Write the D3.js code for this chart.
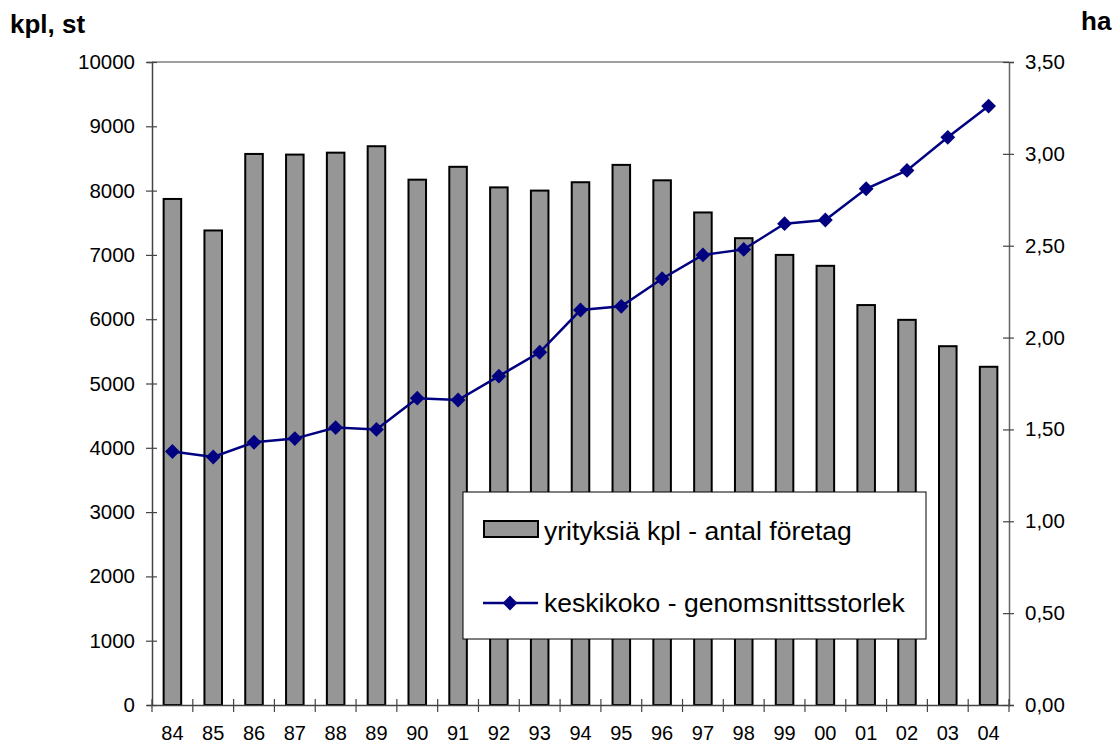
<!DOCTYPE html>
<html>
<head>
<meta charset="utf-8">
<script src="https://cdn.jsdelivr.net/npm/d3@7"></script>
<style>
html,body{margin:0;padding:0;background:#fff;}
svg{display:block;font-family:"Liberation Sans",Arial,sans-serif;}
</style>
</head>
<body>
<svg id="chart" width="1114" height="744"></svg>
<script>
const years = ["84","85","86","87","88","89","90","91","92","93","94","95","96","97","98","99","00","01","02","03","04"];
const companies = [7870,7380,8570,8560,8590,8690,8170,8370,8050,8000,8130,8400,8160,7660,7260,7000,6830,6220,5990,5580,5260];
const avgSize = [1.38,1.35,1.43,1.45,1.51,1.50,1.67,1.66,1.79,1.92,2.15,2.17,2.32,2.45,2.48,2.62,2.64,2.81,2.91,3.09,3.26];
const leftTicks = [0,1000,2000,3000,4000,5000,6000,7000,8000,9000,10000];
const rightTicks = [0,0.5,1,1.5,2,2.5,3,3.5];
const leftTitle = "kpl, st";
const rightTitle = "ha";
const legendBar = "yrityksiä kpl - antal företag";
const legendLine = "keskikoko - genomsnittsstorlek";

const svg = d3.select("#chart");
const L = 152, R = 1009, T = 62, B = 705;

const x = d3.scaleBand().domain(years).range([L, R]).paddingInner(0.57).paddingOuter(0.285);
const yL = d3.scaleLinear().domain([0, 10000]).range([B, T]);
const yR = d3.scaleLinear().domain([0, 3.5]).range([B, T]);

// top border
svg.append("line").attr("x1", L).attr("x2", R).attr("y1", T).attr("y2", T)
  .attr("stroke", "#808080").attr("stroke-width", 1.5);

// bars
svg.append("g").selectAll("rect").data(years).join("rect")
  .attr("x", d => x(d))
  .attr("y", (d, i) => yL(companies[i]))
  .attr("width", x.bandwidth())
  .attr("height", (d, i) => B - yL(companies[i]))
  .attr("fill", "#969696")
  .attr("stroke", "#000")
  .attr("stroke-width", 2);

// axes
const fmtR = d => d3.format(".2f")(d).replace(".", ",");
const axL = svg.append("g").attr("transform", `translate(${L},0)`)
  .call(d3.axisLeft(yL).tickValues(leftTicks).tickSize(5).tickFormat(d => String(d)));
const axR = svg.append("g").attr("transform", `translate(${R},0)`)
  .call(d3.axisRight(yR).tickValues(rightTicks).tickSize(5).tickFormat(fmtR));
const axB = svg.append("g").attr("transform", `translate(0,${B})`)
  .call(d3.axisBottom(x).tickSize(7).tickSizeOuter(0));

[axL, axR, axB].forEach(a => {
  a.select(".domain").attr("stroke", "#444").attr("stroke-width", 1.5);
  a.selectAll(".tick line").attr("stroke", "#444").attr("stroke-width", 1.2);
  a.selectAll("text").attr("font-size", "20.5px").attr("fill", "#000")
    .attr("font-family", "Liberation Sans, Arial, sans-serif");
});
axR.select(".domain").attr("stroke", "#666");
// cross ticks on y axes
axL.selectAll(".tick line").attr("x1", 5).attr("x2", -6);
axL.selectAll(".tick text").attr("x", -17);
axR.selectAll(".tick line").attr("x1", -6).attr("x2", 5);
axR.selectAll(".tick text").attr("x", 16);
// x ticks at band boundaries
axB.selectAll(".tick line").remove();
const bounds = years.map((d, i) => L + i * x.step()).concat([R]);
axB.selectAll(".bt").data(bounds).join("line").attr("class", "bt")
  .attr("x1", d => d).attr("x2", d => d).attr("y1", -6).attr("y2", 7)
  .attr("stroke", "#444").attr("stroke-width", 1.2);
axB.selectAll(".tick text").attr("y", 35).attr("dy", 0).attr("font-size", "20px");

// line
const cx = d => x(d) + x.bandwidth() / 2;
const line = d3.line().x((d, i) => cx(years[i])).y(d => yR(d));
svg.append("path").datum(avgSize).attr("d", line)
  .attr("fill", "none").attr("stroke", "#000080").attr("stroke-width", 2.5);
const diamond = d3.symbol().type(d3.symbolSquare).size(110);
svg.append("g").selectAll("path").data(avgSize).join("path")
  .attr("d", diamond)
  .attr("transform", (d, i) => `translate(${cx(years[i])},${yR(d)}) rotate(45)`)
  .attr("fill", "#000080");

// titles
svg.append("text").attr("x", 10).attr("y", 33).text(leftTitle)
  .attr("font-size", "26px").attr("font-weight", "bold");
svg.append("text").attr("x", 1081).attr("y", 30).text(rightTitle)
  .attr("font-size", "26px").attr("font-weight", "bold");

// legend
const lg = svg.append("g");
lg.append("rect").attr("x", 463).attr("y", 492).attr("width", 463).attr("height", 147)
  .attr("fill", "#fff").attr("stroke", "#000").attr("stroke-width", 1);
lg.append("rect").attr("x", 484).attr("y", 521).attr("width", 54).attr("height", 16)
  .attr("fill", "#969696").attr("stroke", "#000").attr("stroke-width", 2);
lg.append("text").attr("x", 544).attr("y", 540).text(legendBar).attr("font-size", "26.5px");
lg.append("line").attr("x1", 483).attr("x2", 538).attr("y1", 603).attr("y2", 603)
  .attr("stroke", "#000080").attr("stroke-width", 2.5);
lg.append("path").attr("d", diamond).attr("transform", "translate(510,603) rotate(45)").attr("fill", "#000080");
lg.append("text").attr("x", 544).attr("y", 612).text(legendLine).attr("font-size", "26.5px");
</script>
</body>
</html>
